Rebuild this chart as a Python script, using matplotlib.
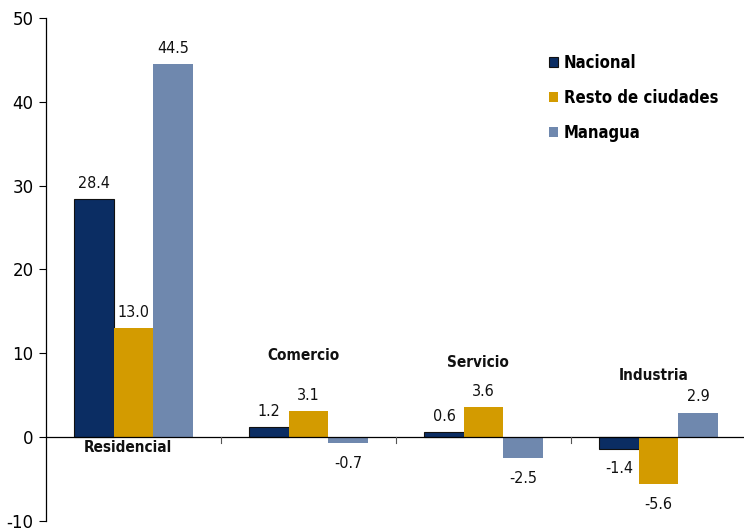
import matplotlib
matplotlib.use("Agg")
import matplotlib.pyplot as plt
import numpy as np

categories = ["Residencial", "Comercio", "Servicio", "Industria"]
series_names = ["Nacional", "Resto de ciudades", "Managua"]
nacional = [28.4, 1.2, 0.6, -1.4]
resto = [13.0, 3.1, 3.6, -5.6]
managua = [44.5, -0.7, -2.5, 2.9]
colors = ["#0B2D63", "#D39B00", "#6F88AE"]
yticks = [-10, 0, 10, 20, 30, 40, 50]
# height (data units) where each category name sits
cat_label_y = [-0.3, 8.8, 8.0, 6.5]

fig = plt.figure(figsize=(7.44, 5.31), dpi=100)
ax = fig.add_axes([46 / 744, 0.019, 700 / 744, 0.947])

value_font = dict(family="DejaVu Sans", stretch="condensed", size=11.5)
bold_font = dict(family="DejaVu Sans", stretch="condensed", weight="bold")

x = np.arange(len(categories))
w = 0.225
all_series = [nacional, resto, managua]
for i, (vals, col) in enumerate(zip(all_series, colors)):
    pos = x + (i - 1) * w
    ec = "#111111" if i == 0 else "none"
    ax.bar(pos, vals, width=w, color=col, edgecolor=ec, linewidth=0.8,
           label=series_names[i], zorder=2)
    for xp, v in zip(pos, vals):
        off = 1.0 if v >= 0 else -1.5
        ax.text(xp, v + off, f"{v:.1f}", ha="center",
                va="bottom" if v >= 0 else "top",
                color="#111111", **value_font)

for xc, name, yl in zip(x, categories, cat_label_y):
    ax.text(xc - 0.03, yl, name, ha="center", va="top" if yl < 0 else "bottom",
            size=11, color="#111111", **bold_font)

ax.set_xlim(-0.5, 3.5)
ax.set_ylim(-10, 50)
ax.set_yticks(yticks)
ax.set_yticklabels([str(t) for t in yticks], fontsize=12, family="DejaVu Sans")
ax.tick_params(axis="y", direction="out", length=5, width=0.8, pad=4)
ax.set_xticks([])
for s in ["top", "right", "bottom"]:
    ax.spines[s].set_visible(False)
ax.spines["left"].set_linewidth(0.9)
ax.axhline(0, color="black", linewidth=0.9, zorder=3)
for b in [0.5, 1.5, 2.5]:
    ax.plot([b, b], [0, -0.7], color="#555555", linewidth=0.8, zorder=3)

leg = ax.legend(loc="upper left", bbox_to_anchor=(0.697, 0.959), frameon=False,
                prop=dict(size=12, **bold_font),
                handlelength=0.55, handleheight=0.55, handletextpad=0.35,
                labelspacing=1.02)

fig.savefig("out.png", dpi=100)
